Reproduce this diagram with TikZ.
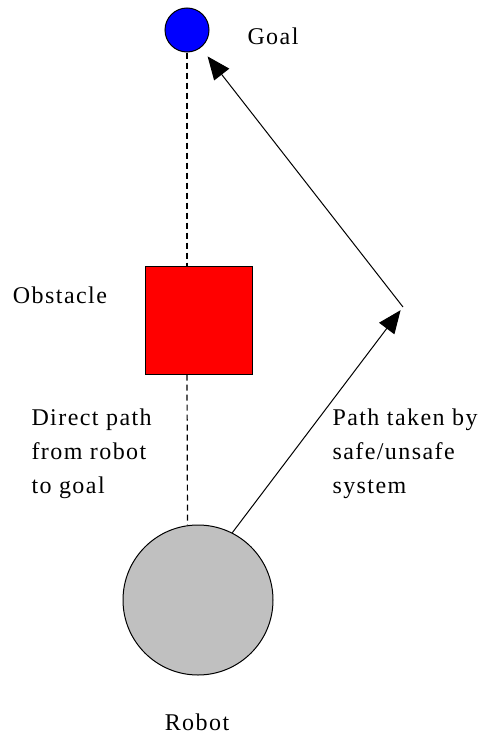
\documentclass[tikz,border=0pt]{standalone}
\usepackage{fontspec}
\setmainfont{Liberation Serif}[LetterSpace=6]
\usepackage{tikz}
\usepackage{xcolor}
\usetikzlibrary{arrows.meta,positioning,calc}
\definecolor{goalblue}{RGB}{0,0,255}
\definecolor{obsred}{RGB}{255,0,0}
\definecolor{robotgray}{RGB}{192,192,192}

\begin{document}
\begin{tikzpicture}[x=1pt,y=-1pt,>={Triangle[length=23pt,width=19pt]},line width=1pt,
  every node/.style={font=\fontsize{24}{34}\selectfont},
  lbl/.style={inner sep=0pt,align=left},
  dashline/.style={dash pattern=on 6pt off 4pt,line width=1.2pt}]
\useasboundingbox (0,0) rectangle (491,736);
\node[circle,draw,fill=goalblue,minimum size=44pt,inner sep=0pt] (goal) at (187,30) {};
\node[draw,fill=obsred,minimum width=107pt,minimum height=108pt,inner sep=0pt] (obs) at (198.5,320) {};
\node[circle,draw,fill=robotgray,minimum size=150pt,inner sep=0pt] (robot) at (198,600) {};
\coordinate (turn) at (403,307);
\node[lbl,anchor=west] (goallbl) at (247,36) {Goal};
\node[lbl] (obslbl) at (60,295) {Obstacle};
\node[lbl] (robotlbl) at (197,722) {Robot};
\node[lbl,anchor=west] (direct) at (31,454) {Direct path\\from robot\\to goal};
\node[lbl,anchor=west] (taken) at (332,454) {Path taken by\\safe/unsafe\\system};
\draw[dashline] (goal) -- (goal |- obs.north);
\draw[dashline] (obs.south -| goal) -- (robot.98);
\draw[->,shorten >=4pt] (robot.63) -- (turn);
\draw[->,shorten >=11pt] (turn) -- (goal);
\end{tikzpicture}
\end{document}
